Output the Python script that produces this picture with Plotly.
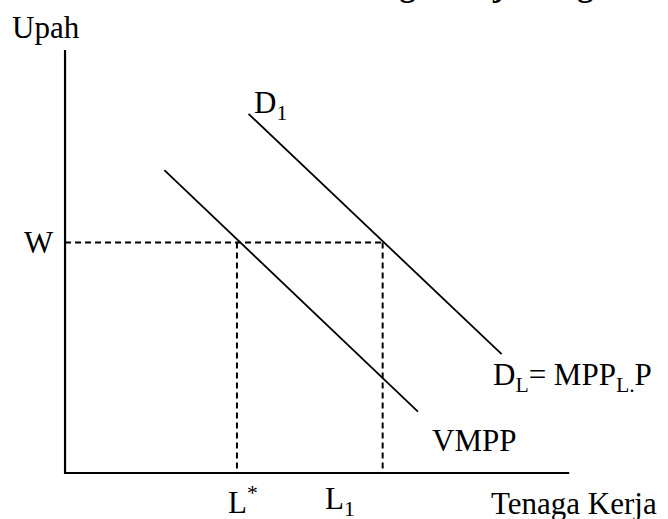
"""Labour demand diagram: VMPP vs shifted demand curve D1 at wage W."""
import plotly.graph_objects as go

# Economic coordinates: labour on x (0..10), wage on y (0..10)
AXIS_MAX = 10.0
WAGE_W = 5.45
LABOUR_LEVELS = [3.41, 6.30]          # L*, L1
LABOUR_LABELS = ["L<sup>*</sup>", "L<sub>1</sub>"]

VMPP_X = [1.97, 7.00]
VMPP_Y = [7.16, 1.45]
D1_X = [3.64, 8.66]
D1_Y = [8.49, 2.81]

FONT = "Liberation Serif, Times New Roman, serif"
BLACK = "#000000"

fig = go.Figure()

# axes drawn as plain lines from the origin
fig.add_trace(go.Scatter(x=[0, 0, AXIS_MAX], y=[AXIS_MAX, 0, 0], mode="lines",
                         line={"color": BLACK, "width": 2.2}, hoverinfo="skip"))

# dashed guides at the wage level and the two labour quantities
fig.add_trace(go.Scatter(x=[0, LABOUR_LEVELS[1]], y=[WAGE_W, WAGE_W], mode="lines",
                         line={"color": BLACK, "width": 2, "dash": "6px,4px"}, hoverinfo="skip"))
for lv in LABOUR_LEVELS:
    fig.add_trace(go.Scatter(x=[lv, lv], y=[WAGE_W, 0], mode="lines",
                             line={"color": BLACK, "width": 2, "dash": "6px,4px"}, hoverinfo="skip"))

# demand curves
fig.add_trace(go.Scatter(x=VMPP_X, y=VMPP_Y, mode="lines",
                         line={"color": BLACK, "width": 1.8}, hoverinfo="skip"))
fig.add_trace(go.Scatter(x=D1_X, y=D1_Y, mode="lines",
                         line={"color": BLACK, "width": 1.8}, hoverinfo="skip"))


def label(text, x, y, xanchor="left", bold=False, size=31, yref="y"):
    fig.add_annotation(x=x, y=y, yref=yref, text=f"<b>{text}</b>" if bold else text,
                       showarrow=False, xanchor=xanchor, yanchor="middle",
                       font={"family": FONT, "size": size, "color": BLACK})


label("Upah", -1.09, 10.54)
label("W", -0.18, WAGE_W, xanchor="right")
label("D<sub>1</sub>", 3.71, 8.70)
label("D<sub>L</sub>= MPP<sub>L.</sub>P", 8.44, 2.27)
label("VMPP", 7.24, 0.78)
label(LABOUR_LABELS[0], LABOUR_LEVELS[0] - 0.21, -0.65)
label(LABOUR_LABELS[1], LABOUR_LEVELS[1] - 1.19, -0.65)
label("Tenaga Kerja", 8.40, -0.71)
# page heading cut off by the top edge
label("Permintaan Tenaga Kerja dengan", 11.18, 1.028, xanchor="right", bold=True,
      size=32, yref="paper")

fig.update_layout(
    width=668, height=519, autosize=False,
    margin={"l": 0, "r": 0, "t": 0, "b": 0},
    paper_bgcolor="white", plot_bgcolor="white",
    showlegend=False,
    xaxis={"visible": False, "range": [-1.29, 11.96], "fixedrange": True},
    yaxis={"visible": False, "range": [-1.087, 11.18], "fixedrange": True},
)

fig.write_html("out.html", config={"displayModeBar": False},
               post_script="document.body.style.margin='0';")
